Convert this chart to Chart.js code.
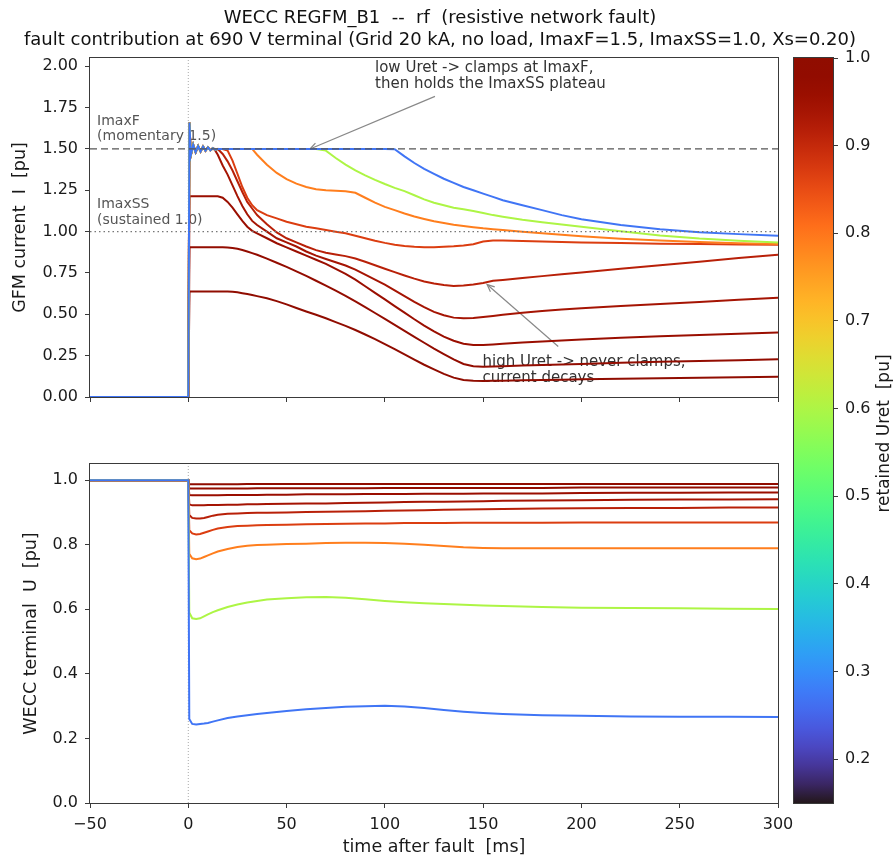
<!DOCTYPE html>
<html><head><meta charset="utf-8">
<script src="https://cdn.jsdelivr.net/npm/chart.js@4.4.1/dist/chart.umd.min.js"></script>
<style>
html,body{margin:0;padding:0;background:#fff;}
#wrap{position:relative;width:895px;height:860px;overflow:hidden;background:#fff;}
canvas{position:absolute;}
</style></head><body>
<div id="wrap">
<canvas id="cI" width="895" height="430" style="left:0;top:0"></canvas>
<canvas id="cU" width="895" height="430" style="left:0;top:430px"></canvas>
<canvas id="cB" width="115" height="860" style="left:780px;top:0"></canvas>
</div>
<script>
// ---------------- data ----------------
const TITLE = ['WECC REGFM_B1  --  rf  (resistive network fault)',
               'fault contribution at 690 V terminal (Grid 20 kA, no load, ImaxF=1.5, ImaxSS=1.0, Xs=0.20)'];
const URET = [0.27, 0.60, 0.79, 0.87, 0.915, 0.94, 0.96, 0.975, 0.988];
const X_TICKS = [-50, 0, 50, 100, 150, 200, 250, 300];
const I_TICKS = [0, 0.25, 0.5, 0.75, 1.0, 1.25, 1.5, 1.75, 2.0];
const U_TICKS = [0, 0.2, 0.4, 0.6, 0.8, 1.0];
const CB_TICKS = [0.2, 0.3, 0.4, 0.5, 0.6, 0.7, 0.8, 0.9, 1.0];
const CB_MIN = 0.15, CB_MAX = 1.0;
const IMAXF = 1.5, IMAXSS = 1.0;

// time grid for current (ms)
const T_I = [-50, 0, 0.6, 1.25, 2.5, 3.75, 5, 6.25, 7.5, 8.75, 10, 11.25, 12.5, 13.75, 15,
             17.5, 20, 22.5, 25, 27.5, 30, 32.5, 35, 40, 45, 50, 55, 60, 65,
             70, 75, 80, 85, 90, 95, 100, 105, 110, 115, 120, 125, 130, 135,
             140, 145, 150, 155, 160, 170, 180, 190, 200, 220, 240, 260, 280, 300];

const I_027 = [0, 0, 1.66, 1.46, 1.525, 1.48, 1.518, 1.485, 1.514, 1.49, 1.51, 1.492, 1.505, 1.496, 1.5,
  1.5, 1.5, 1.5, 1.5, 1.5, 1.5, 1.5, 1.5, 1.5, 1.5, 1.5, 1.5, 1.5, 1.5,
  1.5, 1.5, 1.5, 1.5, 1.5, 1.5, 1.5, 1.498, 1.455, 1.415, 1.38, 1.35, 1.32, 1.295,
  1.27, 1.25, 1.23, 1.21, 1.19, 1.16, 1.13, 1.10, 1.075, 1.04, 1.015, 0.997, 0.985, 0.975];
const I_060 = [0, 0, 1.66, 1.46, 1.525, 1.48, 1.518, 1.485, 1.514, 1.49, 1.51, 1.492, 1.505, 1.496, 1.5,
  1.5, 1.5, 1.5, 1.5, 1.5, 1.5, 1.5, 1.5, 1.5, 1.5, 1.5, 1.5, 1.5, 1.5,
  1.49, 1.445, 1.405, 1.37, 1.34, 1.313, 1.288, 1.265, 1.245, 1.22, 1.195, 1.175, 1.16, 1.145,
  1.135, 1.125, 1.113, 1.10, 1.09, 1.072, 1.057, 1.043, 1.03, 1.003, 0.977, 0.958, 0.945, 0.935];
const I_079 = [0, 0, 1.66, 1.46, 1.525, 1.48, 1.518, 1.485, 1.514, 1.49, 1.51, 1.492, 1.505, 1.496, 1.5,
  1.5, 1.5, 1.5, 1.5, 1.5, 1.5, 1.5, 1.465, 1.405, 1.355, 1.318, 1.29, 1.27, 1.257,
  1.25, 1.247, 1.244, 1.235, 1.205, 1.175, 1.15, 1.13, 1.11, 1.092, 1.077, 1.063, 1.052, 1.042,
  1.034, 1.027, 1.02, 1.015, 1.01, 1.0, 0.99, 0.981, 0.972, 0.957, 0.946, 0.937, 0.93, 0.925];
const I_087 = [0, 0, 1.66, 1.46, 1.525, 1.48, 1.518, 1.485, 1.514, 1.49, 1.51, 1.492, 1.505, 1.496, 1.5,
  1.5, 1.49, 1.43, 1.35, 1.27, 1.205, 1.16, 1.13, 1.10, 1.08, 1.06, 1.045, 1.03, 1.02,
  1.01, 1.0, 0.99, 0.975, 0.96, 0.945, 0.932, 0.921, 0.913, 0.908, 0.906, 0.906, 0.908, 0.911,
  0.916, 0.924, 0.94, 0.947, 0.946, 0.943, 0.94, 0.937, 0.935, 0.931, 0.927, 0.925, 0.922, 0.92];
const I_0915 = [0, 0, 1.66, 1.46, 1.525, 1.48, 1.518, 1.485, 1.514, 1.49, 1.51, 1.492, 1.505, 1.496, 1.5,
  1.47, 1.425, 1.37, 1.305, 1.24, 1.18, 1.14, 1.10, 1.045, 0.995, 0.96, 0.935, 0.91, 0.888,
  0.872, 0.862, 0.852, 0.838, 0.818, 0.797, 0.776, 0.755, 0.735, 0.716, 0.699, 0.686, 0.677, 0.672,
  0.674, 0.68, 0.69, 0.703, 0.708, 0.72, 0.731, 0.742, 0.753, 0.775, 0.797, 0.818, 0.84, 0.86];
const I_094 = [0, 0, 1.66, 1.46, 1.525, 1.48, 1.518, 1.485, 1.514, 1.49, 1.51, 1.492, 1.505, 1.49, 1.465,
  1.40, 1.345, 1.28, 1.215, 1.155, 1.105, 1.065, 1.04, 1.0, 0.96, 0.935, 0.91, 0.88, 0.855,
  0.835, 0.815, 0.795, 0.77, 0.74, 0.71, 0.68, 0.645, 0.61, 0.575, 0.543, 0.515, 0.494, 0.48,
  0.476, 0.478, 0.484, 0.49, 0.497, 0.509, 0.52, 0.529, 0.537, 0.55, 0.563, 0.575, 0.588, 0.60];
const I_096 = [0, 0, 1.214, 1.214, 1.214, 1.214, 1.214, 1.214, 1.214, 1.214, 1.214, 1.214, 1.214, 1.214, 1.214,
  1.205, 1.18, 1.145, 1.105, 1.065, 1.03, 1.005, 0.99, 0.96, 0.93, 0.905, 0.88, 0.855, 0.83,
  0.805, 0.775, 0.745, 0.71, 0.67, 0.63, 0.59, 0.55, 0.51, 0.47, 0.432, 0.397, 0.365, 0.34,
  0.322, 0.314, 0.315, 0.318, 0.322, 0.33, 0.336, 0.342, 0.348, 0.358, 0.367, 0.375, 0.383, 0.39];
const I_0975 = [0, 0, 0.905, 0.905, 0.905, 0.905, 0.905, 0.905, 0.905, 0.905, 0.905, 0.905, 0.905, 0.905, 0.905,
  0.905, 0.904, 0.901, 0.896, 0.889, 0.88, 0.87, 0.86, 0.837, 0.812, 0.787, 0.76, 0.732, 0.703,
  0.673, 0.643, 0.612, 0.578, 0.543, 0.508, 0.472, 0.436, 0.40, 0.364, 0.328, 0.293, 0.26, 0.228,
  0.20, 0.186, 0.183, 0.184, 0.186, 0.19, 0.193, 0.196, 0.20, 0.207, 0.213, 0.218, 0.223, 0.228];
const I_0988 = [0, 0, 0.638, 0.638, 0.638, 0.638, 0.638, 0.638, 0.638, 0.638, 0.638, 0.638, 0.638, 0.638, 0.638,
  0.638, 0.638, 0.636, 0.633, 0.628, 0.623, 0.617, 0.61, 0.597, 0.58, 0.56, 0.538, 0.517, 0.497,
  0.476, 0.453, 0.43, 0.405, 0.378, 0.35, 0.32, 0.29, 0.258, 0.226, 0.195, 0.167, 0.14, 0.117,
  0.103, 0.098, 0.097, 0.098, 0.099, 0.101, 0.103, 0.105, 0.107, 0.11, 0.113, 0.116, 0.12, 0.123];

// time grid for voltage (ms)
const T_U = [-50, 0, 0.5, 2, 4, 6, 8, 10, 12.5, 15, 20,
             25, 30, 35, 40, 50, 60, 70, 80, 90, 100, 110,
             120, 130, 140, 150, 160, 180, 200, 225, 250, 275, 300];
const U_027 = [1, 1, 0.26, 0.245, 0.243, 0.245, 0.246, 0.248, 0.252, 0.256, 0.263,
  0.268, 0.272, 0.276, 0.279, 0.285, 0.29, 0.294, 0.298, 0.30, 0.301, 0.299,
  0.294, 0.288, 0.283, 0.279, 0.276, 0.272, 0.27, 0.268, 0.267, 0.267, 0.266];
const U_060 = [1, 1, 0.59, 0.572, 0.570, 0.572, 0.578, 0.584, 0.591, 0.597, 0.607,
  0.615, 0.621, 0.626, 0.63, 0.634, 0.637, 0.638, 0.636, 0.631, 0.626, 0.622,
  0.619, 0.616, 0.614, 0.612, 0.61, 0.607, 0.605, 0.604, 0.603, 0.602, 0.601];
const U_079 = [1, 1, 0.772, 0.758, 0.755, 0.757, 0.762, 0.767, 0.773, 0.779, 0.787,
  0.793, 0.797, 0.799, 0.80, 0.802, 0.803, 0.805, 0.806, 0.806, 0.805, 0.803,
  0.80, 0.796, 0.792, 0.79, 0.789, 0.789, 0.789, 0.789, 0.789, 0.789, 0.789];
const U_087 = [1, 1, 0.845, 0.835, 0.832, 0.833, 0.837, 0.841, 0.846, 0.85, 0.855,
  0.858, 0.859, 0.86, 0.861, 0.862, 0.863, 0.864, 0.865, 0.866, 0.866, 0.867,
  0.867, 0.867, 0.868, 0.868, 0.868, 0.868, 0.869, 0.869, 0.869, 0.869, 0.869];
const U_0915 = [1, 1, 0.892, 0.883, 0.881, 0.881, 0.883, 0.886, 0.89, 0.893, 0.896,
  0.897, 0.898, 0.899, 0.899, 0.90, 0.901, 0.902, 0.903, 0.904, 0.905, 0.906,
  0.907, 0.908, 0.909, 0.91, 0.911, 0.912, 0.913, 0.914, 0.914, 0.915, 0.915];
const U_094 = [1, 1, 0.925, 0.922, 0.922, 0.922, 0.922, 0.923, 0.923, 0.923, 0.924,
  0.924, 0.925, 0.925, 0.926, 0.927, 0.928, 0.928, 0.929, 0.93, 0.931, 0.932,
  0.933, 0.933, 0.934, 0.935, 0.936, 0.937, 0.938, 0.939, 0.94, 0.94, 0.941];
const U_096 = [1, 1, 0.954, 0.953, 0.953, 0.953, 0.953, 0.953, 0.953, 0.953, 0.954,
  0.954, 0.954, 0.954, 0.955, 0.955, 0.956, 0.956, 0.956, 0.957, 0.957, 0.957,
  0.958, 0.958, 0.958, 0.959, 0.959, 0.959, 0.96, 0.961, 0.961, 0.962, 0.962];
const U_0975 = [1, 1, 0.974, 0.974, 0.974, 0.974, 0.974, 0.974, 0.974, 0.974, 0.974,
  0.974, 0.974, 0.975, 0.975, 0.975, 0.975, 0.975, 0.975, 0.975, 0.976, 0.976,
  0.976, 0.976, 0.976, 0.976, 0.976, 0.976, 0.977, 0.977, 0.977, 0.977, 0.977];
const U_0988 = [1, 1, 0.987, 0.987, 0.987, 0.987, 0.987, 0.987, 0.987, 0.987, 0.987,
  0.987, 0.988, 0.988, 0.988, 0.988, 0.988, 0.988, 0.988, 0.988, 0.988, 0.988,
  0.988, 0.988, 0.988, 0.988, 0.988, 0.988, 0.988, 0.988, 0.988, 0.988, 0.988];

const I_SERIES = [I_027, I_060, I_079, I_087, I_0915, I_094, I_096, I_0975, I_0988];
const U_SERIES = [U_027, U_060, U_079, U_087, U_0915, U_094, U_096, U_0975, U_0988];

// ---------------- helpers ----------------
const FONT = "'DejaVu Sans', sans-serif";
Chart.defaults.font.family = FONT;
Chart.defaults.color = '#1a1a1a';
const TICK_FS = 16, LABEL_FS = 17.5;

function turbo(x) {
  x = Math.min(1, Math.max(0, x));
  const x2 = x*x, x3 = x2*x, x4 = x3*x, x5 = x4*x;
  const r = 0.13572138 + 4.61539260*x - 42.66032258*x2 + 132.13108234*x3 - 152.94239396*x4 + 59.28637943*x5;
  const g = 0.09140261 + 2.19418839*x + 4.84296658*x2 - 14.18503333*x3 + 4.27729857*x4 + 2.82956604*x5;
  const b = 0.10667330 + 12.64194608*x - 60.58204836*x2 + 110.36276771*x3 - 89.90310912*x4 + 27.34824973*x5;
  const c = v => Math.round(255 * Math.min(1, Math.max(0, v)));
  return 'rgb(' + c(r) + ',' + c(g) + ',' + c(b) + ')';
}
const colorOf = u => turbo((u - CB_MIN) / (CB_MAX - CB_MIN));
const pts = (t, v) => t.map((x, i) => ({x: x, y: v[i]}));
const fixTicks = arr => (s => { s.ticks = arr.map(v => ({value: v})); });
const fmtX = v => (v < 0 ? '\u2212' + Math.abs(v) : String(v));

const AX_COLOR = '#3a3a3a';
const framePlugin = {
  id: 'frame',
  beforeDatasetsDraw(chart) {
    const {ctx, chartArea: a} = chart;
    ctx.save();
    ctx.strokeStyle = AX_COLOR; ctx.lineWidth = 1;
    ctx.strokeRect(Math.round(a.left) - 0.5, Math.round(a.top) - 0.5,
                   Math.round(a.right - a.left) + 1, Math.round(a.bottom - a.top) + 1);
    ctx.restore();
  }
};

// annotation texts (data coordinates) and arrows
const NOTES = [
  {t: -46.4, v: [1.668, 1.574], lines: ['ImaxF', '(momentary 1.5)'], size: 14, color: '#555'},
  {t: -46.4, v: [1.164, 1.068], lines: ['ImaxSS', '(sustained 1.0)'], size: 14, color: '#555'},
  {t: 95, v: [1.99, 1.89], lines: ['low Uret -> clamps at ImaxF,', 'then holds the ImaxSS plateau'], size: 15, color: '#333'},
  {t: 149.7, v: [0.214, 0.113], lines: ['high Uret -> never clamps,', 'current decays'], size: 15, color: '#333'}
];
const ARROWS = [
  {from: [125.5, 1.818], to: [61.9, 1.5]},
  {from: [188.2, 0.305], to: [152, 0.68]}
];
const annotPlugin = {
  id: 'annot',
  beforeDatasetsDraw(chart) {
    const {ctx, scales: {x, y}} = chart;
    ctx.save();
    ctx.textAlign = 'left'; ctx.textBaseline = 'middle';
    NOTES.forEach(n => {
      ctx.font = n.size + 'px ' + FONT; ctx.fillStyle = n.color;
      n.lines.forEach((s, i) => ctx.fillText(s, x.getPixelForValue(n.t), y.getPixelForValue(n.v[i])));
    });
    ctx.strokeStyle = '#888'; ctx.lineWidth = 1.2;
    ARROWS.forEach(a => {
      const x0 = x.getPixelForValue(a.from[0]), y0 = y.getPixelForValue(a.from[1]);
      const x1 = x.getPixelForValue(a.to[0]), y1 = y.getPixelForValue(a.to[1]);
      ctx.beginPath(); ctx.moveTo(x0, y0); ctx.lineTo(x1, y1); ctx.stroke();
      const ang = Math.atan2(y1 - y0, x1 - x0), L = 8, w = 0.42;
      ctx.beginPath();
      ctx.moveTo(x1 - L*Math.cos(ang - w), y1 - L*Math.sin(ang - w));
      ctx.lineTo(x1, y1);
      ctx.lineTo(x1 - L*Math.cos(ang + w), y1 - L*Math.sin(ang + w));
      ctx.stroke();
    });
    ctx.restore();
  }
};

function seriesDatasets(T, SER) {
  return SER.map((v, k) => ({
    data: pts(T, v), borderColor: colorOf(URET[k]), borderWidth: 2,
    pointRadius: 0, tension: 0, fill: false, xAxisID: 'x', yAxisID: 'y'
  }));
}

const I_MAX = 2.05, U_MAX = 1.05;
const tickGrid = {drawOnChartArea: false, drawTicks: true, tickLength: 5, color: AX_COLOR, lineWidth: 1};

// ---------------- top chart: current ----------------
new Chart(document.getElementById('cI'), {
  type: 'line',
  data: {datasets: [
    {data: [{x: -50, y: IMAXF}, {x: 300, y: IMAXF}], borderColor: '#555', borderWidth: 1.3, borderDash: [7, 4], pointRadius: 0, xAxisID: 'x', yAxisID: 'y'},
    {data: [{x: -50, y: IMAXSS}, {x: 300, y: IMAXSS}], borderColor: '#777', borderWidth: 1.3, borderDash: [1.5, 3], pointRadius: 0, xAxisID: 'x', yAxisID: 'y'},
    ...seriesDatasets(T_I, I_SERIES),
    {data: [{x: 0, y: 0}, {x: 0, y: I_MAX}], borderColor: '#aaa', borderWidth: 1, borderDash: [1, 2], pointRadius: 0, xAxisID: 'x', yAxisID: 'y'}
  ]},
  options: {
    responsive: false, animation: false, events: [],
    layout: {padding: {left: 0, right: 15, top: 0, bottom: 0}},
    plugins: {
      legend: {display: false}, tooltip: {enabled: false},
      title: {display: true, text: TITLE, color: '#111',
              font: {size: 18, weight: 'normal', lineHeight: 1.22}, padding: {top: 7, bottom: 7.1}}
    },
    scales: {
      x: {type: 'linear', min: -50, max: 300, afterBuildTicks: fixTicks(X_TICKS),
          ticks: {display: false}, grid: tickGrid, border: {display: false},
          afterFit: s => { s.height = 33; }},
      y: {type: 'linear', min: 0, max: I_MAX, afterBuildTicks: fixTicks(I_TICKS),
          ticks: {callback: v => v.toFixed(2), font: {size: TICK_FS}, padding: 7, color: '#1a1a1a'},
          grid: tickGrid, border: {display: false},
          title: {display: true, text: 'GFM current  I  [pu]', font: {size: LABEL_FS}, padding: {top: 9.5, bottom: 0}, color: '#1a1a1a'},
          afterFit: s => { s.width = 90; }},
      yR: {type: 'linear', position: 'right', display: true, grid: {display: false},
           ticks: {display: false}, border: {display: false}, afterFit: s => { s.width = 102; }}
    }
  },
  plugins: [framePlugin, annotPlugin]
});

// ---------------- bottom chart: voltage ----------------
new Chart(document.getElementById('cU'), {
  type: 'line',
  data: {datasets: [
    ...seriesDatasets(T_U, U_SERIES),
    {data: [{x: 0, y: 0}, {x: 0, y: U_MAX}], borderColor: '#aaa', borderWidth: 1, borderDash: [1, 2], pointRadius: 0, xAxisID: 'x', yAxisID: 'y'}
  ]},
  options: {
    responsive: false, animation: false, events: [],
    layout: {padding: {left: 0, right: 117, top: 34, bottom: 0}},
    plugins: {legend: {display: false}, tooltip: {enabled: false}},
    scales: {
      x: {type: 'linear', min: -50, max: 300, afterBuildTicks: fixTicks(X_TICKS),
          ticks: {callback: fmtX, font: {size: TICK_FS}, padding: 7, maxRotation: 0, autoSkip: false, color: '#1a1a1a'},
          grid: tickGrid, border: {display: false},
          title: {display: true, text: 'time after fault  [ms]', font: {size: LABEL_FS}, padding: {top: 0, bottom: 2.5}, color: '#1a1a1a'},
          afterFit: s => { s.height = 57; }},
      y: {type: 'linear', min: 0, max: U_MAX, afterBuildTicks: fixTicks(U_TICKS),
          ticks: {callback: v => v.toFixed(1), font: {size: TICK_FS}, padding: 7, color: '#1a1a1a'},
          grid: tickGrid, border: {display: false},
          title: {display: true, text: 'WECC terminal  U  [pu]', font: {size: LABEL_FS}, padding: {top: 20.5, bottom: 0}, color: '#1a1a1a'},
          afterFit: s => { s.width = 90; }}
    }
  },
  plugins: [framePlugin]
});

// ---------------- colorbar ----------------
const cbPlugin = {
  id: 'cbar',
  beforeDatasetsDraw(chart) {
    const {ctx, chartArea: a, scales: {y}} = chart;
    const y0 = y.getPixelForValue(CB_MIN), y1 = y.getPixelForValue(CB_MAX);
    const g = ctx.createLinearGradient(0, y0, 0, y1);
    for (let i = 0; i <= 40; i++) g.addColorStop(i / 40, turbo(i / 40));
    ctx.save();
    ctx.fillStyle = g;
    ctx.fillRect(a.left, y1, a.right - a.left, y0 - y1);
    ctx.strokeStyle = AX_COLOR; ctx.lineWidth = 1;
    ctx.strokeRect(Math.round(a.left) - 0.5, Math.round(y1) - 0.5, Math.round(a.right - a.left) + 1, Math.round(y0 - y1) + 1);
    ctx.restore();
  },
  afterDraw(chart) {
    const {ctx, chartArea: a} = chart;
    ctx.save();
    ctx.translate(105, (a.top + a.bottom) / 2 + 3);
    ctx.rotate(-Math.PI / 2);
    ctx.font = '17px ' + FONT; ctx.fillStyle = '#1a1a1a';
    ctx.textAlign = 'center'; ctx.textBaseline = 'middle';
    ctx.fillText('retained Uret  [pu]', 0, 0);
    ctx.restore();
  }
};
new Chart(document.getElementById('cB'), {
  type: 'line',
  data: {datasets: []},
  options: {
    responsive: false, animation: false, events: [],
    layout: {padding: {left: 14, right: 0, top: 58, bottom: 57}},
    plugins: {legend: {display: false}, tooltip: {enabled: false}},
    scales: {
      x: {type: 'linear', display: false, min: 0, max: 1},
      y: {type: 'linear', position: 'right', min: CB_MIN, max: CB_MAX, afterBuildTicks: fixTicks(CB_TICKS),
          ticks: {callback: v => v.toFixed(1), font: {size: TICK_FS}, padding: 7, color: '#1a1a1a'},
          grid: tickGrid, border: {display: false},
          afterFit: s => { s.width = 62; }}
    }
  },
  plugins: [cbPlugin]
});
</script>
</body></html>
